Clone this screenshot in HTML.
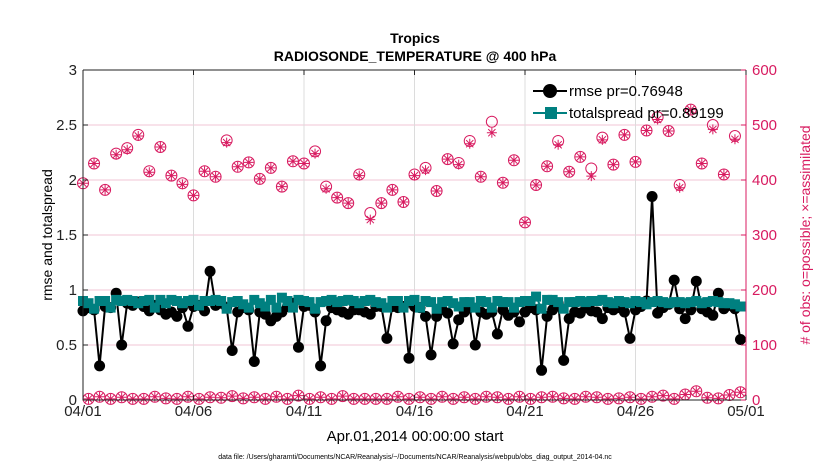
<!DOCTYPE html>
<html><head><meta charset="utf-8"><style>
body{margin:0;background:#fff;}
svg{display:block;font-family:"Liberation Sans",sans-serif;}
</style></head><body>
<svg id="chart" width="830" height="470" xmlns="http://www.w3.org/2000/svg">
<rect x="0" y="0" width="830" height="470" fill="#fff"/>
<g id="grid"></g>
<g id="obs"></g>
<g id="lines"></g>
<g id="axes"></g>
<text x="415" y="43" text-anchor="middle" font-size="14" font-weight="bold">Tropics</text>
<text x="415" y="61" text-anchor="middle" font-size="14" font-weight="bold">RADIOSONDE_TEMPERATURE @ 400 hPa</text>
<text x="415" y="441" text-anchor="middle" font-size="15">Apr.01,2014 00:00:00 start</text>
<text transform="translate(52,235) rotate(-90)" text-anchor="middle" font-size="14">rmse and totalspread</text>
<text transform="translate(810,235) rotate(-90)" text-anchor="middle" font-size="14" fill="#d81b60"># of obs: o=possible; ×=assimilated</text>
<text x="415" y="459" text-anchor="middle" font-size="7">data file: /Users/gharamti/Documents/NCAR/Reanalysis/~/Documents/NCAR/Reanalysis/webpub/obs_diag_output_2014-04.nc</text>
<g id="legend"></g>
</svg>
<script>
const xTickLabels=["04/01","04/06","04/11","04/16","04/21","04/26","05/01"];
const xTickDays=[0,5,10,15,20,25,30];
const yTicks=[0,0.5,1,1.5,2,2.5,3];
const yTickLabels=["0","0.5","1","1.5","2","2.5","3"];
const rTicks=[0,100,200,300,400,500,600];
const possibleBig=[394,430,382,448,458,482,416,460,408,394,372,416,406,472,424,432,402,422,388,434,430,452,388,368,358,410,340,358,382,360,410,422,380,438,431,471,406,506,395,436,323,391,425,471,415,442,421,477,428,482,433,490,514,489,391,528,430,500,410,480];
const assimBig=[394,430,382,446,455,480,414,460,408,392,372,416,406,468,424,432,402,422,388,434,430,448,384,368,358,408,328,358,382,360,408,418,380,438,428,466,406,486,395,436,323,391,425,464,415,442,407,473,428,482,433,490,510,489,386,528,430,492,410,474];
const smallObs=[2,6,2,5,2,2,6,3,2,6,2,5,4,7,3,5,2,6,2,8,2,5,2,7,2,2,2,2,6,2,5,2,6,2,5,2,6,5,2,6,2,5,6,3,2,6,5,2,3,5,2,6,8,2,10,16,4,3,9,14];
const rmse=[0.81,0.84,0.82,0.31,0.85,0.84,0.97,0.50,0.88,0.86,0.89,0.85,0.81,0.86,0.82,0.78,0.80,0.76,0.84,0.67,0.85,0.86,0.81,1.17,0.86,0.88,0.84,0.45,0.80,0.84,0.82,0.35,0.80,0.78,0.72,0.76,0.80,0.85,0.88,0.48,0.85,0.86,0.80,0.31,0.72,0.84,0.82,0.80,0.78,0.82,0.82,0.80,0.78,0.85,0.85,0.56,0.85,0.84,0.85,0.38,0.85,0.84,0.76,0.41,0.76,0.82,0.79,0.51,0.73,0.80,0.84,0.50,0.80,0.78,0.80,0.60,0.82,0.77,0.80,0.71,0.80,0.84,0.82,0.27,0.76,0.82,0.88,0.36,0.74,0.80,0.79,0.84,0.81,0.80,0.74,0.84,0.82,0.84,0.80,0.56,0.82,0.85,0.90,1.85,0.79,0.84,0.87,1.09,0.83,0.74,0.82,1.08,0.83,0.80,0.77,0.97,0.83,0.86,0.83,0.55];
const spread=[0.90,0.88,0.83,0.90,0.90,0.84,0.91,0.90,0.91,0.90,0.88,0.90,0.91,0.84,0.91,0.88,0.91,0.90,0.88,0.90,0.91,0.86,0.90,0.90,0.91,0.90,0.83,0.89,0.90,0.87,0.84,0.91,0.88,0.85,0.91,0.84,0.93,0.90,0.84,0.91,0.90,0.89,0.83,0.89,0.90,0.91,0.89,0.90,0.91,0.90,0.88,0.90,0.91,0.89,0.88,0.84,0.90,0.90,0.84,0.90,0.91,0.84,0.90,0.89,0.83,0.89,0.90,0.88,0.85,0.89,0.89,0.84,0.90,0.89,0.84,0.90,0.89,0.89,0.84,0.89,0.90,0.90,0.94,0.83,0.91,0.91,0.89,0.83,0.89,0.89,0.90,0.89,0.90,0.90,0.91,0.89,0.88,0.90,0.89,0.88,0.90,0.89,0.87,0.89,0.90,0.89,0.88,0.89,0.89,0.88,0.89,0.90,0.88,0.89,0.90,0.89,0.88,0.88,0.87,0.85];
const L=83,R=746,T=70,B=400,NS="http://www.w3.org/2000/svg";
const MAG="#d81b60",TEAL="#008080";
function xDay(d){return L+(R-L)*d/30;}
function xIdx(i){return xDay(i*0.25);}
function yL(v){return B-(B-T)*v/3;}
function yR(v){return B-(B-T)*v/600;}
function mk(tag,at,parent){const e=document.createElementNS(NS,tag);for(const k in at)e.setAttribute(k,at[k]);parent.appendChild(e);return e;}
const grid=document.getElementById('grid'),axes=document.getElementById('axes'),obs=document.getElementById('obs'),lines=document.getElementById('lines'),leg=document.getElementById('legend');
rTicks.forEach(v=>{if(v>0&&v<600){const g=mk('line',{x1:L,x2:R,y1:yR(v),y2:yR(v),stroke:'#f2c6d6','stroke-width':1},grid);}});
xTickDays.forEach(d=>{if(d>0&&d<30){const g=mk('line',{x1:xDay(d),x2:xDay(d),y1:T,y2:B,stroke:'#dcdcdc','stroke-width':1},grid);}});
function obsMarker(x,yp,ya){const g=mk('g',{},obs);
mk('circle',{cx:x,cy:yp,r:5.5,fill:'none',stroke:MAG,'stroke-width':1},g);
const s=5;mk('path',{d:`M${x-s} ${ya}H${x+s}M${x} ${ya-s}V${ya+s}M${x-3.6} ${ya-3.6}L${x+3.6} ${ya+3.6}M${x-3.6} ${ya+3.6}L${x+3.6} ${ya-3.6}`,stroke:MAG,'stroke-width':1,fill:'none'},g);}
for(let k=0;k<possibleBig.length;k++){obsMarker(xIdx(2*k),yR(possibleBig[k]),yR(assimBig[k]));}
for(let k=0;k<smallObs.length;k++){obsMarker(xIdx(2*k+1),yR(smallObs[k]),yR(smallObs[k]));}
function poly(arr,color,name){const p=mk('polyline',{points:arr.map((v,i)=>xIdx(i)+','+yL(v)).join(' '),fill:'none',stroke:color,'stroke-width':2},lines);}
poly(rmse,'#000','rmse-line');
rmse.forEach((v,i)=>{const c=mk('circle',{cx:xIdx(i),cy:yL(v),r:5.5,fill:'#000'},lines);});
poly(spread,TEAL,'totalspread-line');
spread.forEach((v,i)=>{const c=mk('rect',{x:xIdx(i)-5,y:yL(v)-5,width:10,height:10,fill:TEAL},lines);});
let a=mk('path',{d:`M${L} ${T}V${B}H${R}M${L} ${T}H${R}`,stroke:'#222','stroke-width':1,fill:'none'},axes);
a=mk('line',{x1:R,x2:R,y1:T,y2:B,stroke:MAG,'stroke-width':1},axes);
yTicks.forEach((v,i)=>{mk('line',{x1:L,x2:L+5,y1:yL(v),y2:yL(v),stroke:'#222'},axes);
const t=mk('text',{x:L-6,y:yL(v)+5,'text-anchor':'end','font-size':15,fill:'#222'},axes);t.textContent=yTickLabels[i];});
rTicks.forEach(v=>{mk('line',{x1:R-5,x2:R,y1:yR(v),y2:yR(v),stroke:MAG},axes);
const t=mk('text',{x:R+6,y:yR(v)+5,'font-size':15,fill:MAG},axes);t.textContent=v;});
xTickDays.forEach((d,i)=>{mk('line',{x1:xDay(d),x2:xDay(d),y1:B,y2:B-5,stroke:'#222'},axes);mk('line',{x1:xDay(d),x2:xDay(d),y1:T,y2:T+5,stroke:'#222'},axes);
const t=mk('text',{x:xDay(d),y:B+16,'text-anchor':'middle','font-size':15,fill:'#222'},axes);t.textContent=xTickLabels[i];});
function legEntry(y,color,sq,label,name){const g=mk('g',{},leg);
mk('line',{x1:533,x2:567,y1:y,y2:y,stroke:color,'stroke-width':2},g);
if(sq)mk('rect',{x:545,y:y-6,width:12,height:12,fill:color},g);else mk('circle',{cx:550,cy:y,r:7,fill:color},g);
const t=mk('text',{x:569,y:y+5,'font-size':15,fill:'#000'},g);t.textContent=label;}
legEntry(91,'#000',false,'rmse pr=0.76948','legend-entry-rmse');
legEntry(113,TEAL,true,'totalspread pr=0.89199','legend-entry-totalspread');
</script>
</body></html>
